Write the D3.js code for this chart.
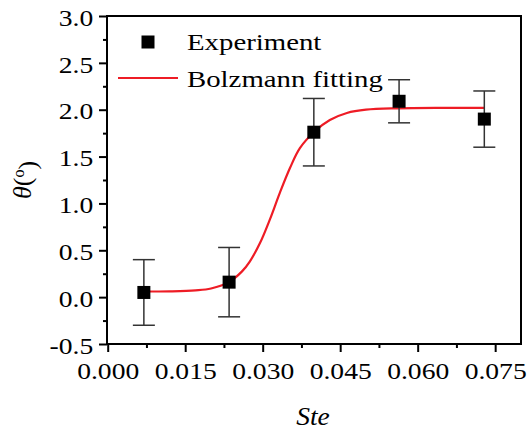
<!DOCTYPE html>
<html><head><meta charset="utf-8">
<script src="https://cdn.jsdelivr.net/npm/d3@7"></script>
<style>
body{margin:0;background:#fff;}
svg{display:block;}
text{font-family:"Liberation Serif","Times New Roman",serif;fill:#000;}
</style></head>
<body>
<svg id="chart" width="528" height="436"></svg>
<script>
// Experimental data
const steValues = [0.0070, 0.0235, 0.0399, 0.0564, 0.0729];
const thetaValues = [0.05, 0.16, 1.76, 2.09, 1.90];
const thetaErrors = [0.35, 0.37, 0.36, 0.23, 0.30];
// Boltzmann fitting curve
const fitSte = [0.0070, 0.0120, 0.0170, 0.0200, 0.0236, 0.0260, 0.0275, 0.0295, 0.0314, 0.0333, 0.0353, 0.0372, 0.0401, 0.0430, 0.0463, 0.0500, 0.0560, 0.0650, 0.0729];
const fitTheta = [0.060, 0.062, 0.072, 0.092, 0.166, 0.275, 0.380, 0.580, 0.830, 1.110, 1.380, 1.590, 1.770, 1.890, 1.965, 2.000, 2.015, 2.020, 2.020];
// Axis ticks
const xTicks = [0.000, 0.015, 0.030, 0.045, 0.060, 0.075];
const xMinor = [0.0075, 0.0225, 0.0375, 0.0525, 0.0675];
const yTicks = [-0.5, 0.0, 0.5, 1.0, 1.5, 2.0, 2.5, 3.0];
const yMinor = [-0.25, 0.25, 0.75, 1.25, 1.75, 2.25, 2.75];
const legendLabels = ["Experiment", "Bolzmann fitting"];

const L = 107, R = 521, T = 16, B = 344;
const SX = 1.2; // horizontal stretch of the lettering
const svg = d3.select("#chart");
const x = d3.scaleLinear().domain([0, 0.08]).range([L + 0.7, R]);
const y = d3.scaleLinear().domain([-0.5, 3.0]).range([B, T]);
const fs = 23;
const fmt1 = v => d3.format(".1f")(v).replace("\u2212", "-");
const fmt3 = v => d3.format(".3f")(v).replace("\u2212", "-");

// axes
const xAxis = svg.append("g").attr("transform", `translate(0,${B})`)
  .call(d3.axisBottom(x).tickValues(xTicks).tickFormat(fmt3).tickSize(8).tickSizeOuter(0));
const xAxisMinor = svg.append("g").attr("transform", `translate(0,${B})`)
  .call(d3.axisBottom(x).tickValues(xMinor).tickFormat("").tickSize(4).tickSizeOuter(0));
const yAxis = svg.append("g").attr("transform", `translate(${L},0)`)
  .call(d3.axisLeft(y).tickValues(yTicks).tickFormat(fmt1).tickSize(8).tickSizeOuter(0));
const yAxisMinor = svg.append("g").attr("transform", `translate(${L},0)`)
  .call(d3.axisLeft(y).tickValues(yMinor).tickFormat("").tickSize(4).tickSizeOuter(0));
[xAxis, xAxisMinor, yAxis, yAxisMinor].forEach(g => {
  g.selectAll("path").remove();
  g.selectAll("line").attr("stroke", "#000").attr("stroke-width", 2);
  g.selectAll("text").style("font-size", fs + "px").style("font-family", '"Liberation Serif",serif')
    .attr("transform", `scale(${SX},1)`);
});
xAxis.selectAll("text").attr("y", 35).attr("dy", 0).attr("x", 0);
yAxis.selectAll("text").attr("x", -13.7 / SX).attr("dy", "0.4em");

// frame
svg.append("rect").attr("x", L).attr("y", T).attr("width", R - L).attr("height", B - T)
  .attr("fill", "none").attr("stroke", "#000").attr("stroke-width", 2);

// fitting curve
svg.append("path")
  .datum(fitSte.map((s, i) => [s, fitTheta[i]]))
  .attr("fill", "none").attr("stroke", "#ee1c25").attr("stroke-width", 2.2)
  .attr("d", d3.line().x(d => x(d[0])).y(d => y(d[1])).curve(d3.curveCatmullRom.alpha(0.5)));

// error bars
const data = steValues.map((s, i) => ({s, t: thetaValues[i], e: thetaErrors[i]}));
const eb = svg.append("g").attr("stroke", "#333").attr("stroke-width", 1.5);
data.forEach(d => {
  eb.append("line").attr("x1", x(d.s)).attr("x2", x(d.s)).attr("y1", y(d.t - d.e)).attr("y2", y(d.t + d.e));
  [d.t - d.e, d.t + d.e].forEach(v => {
    eb.append("line").attr("x1", x(d.s) - 11).attr("x2", x(d.s) + 11).attr("y1", y(v)).attr("y2", y(v));
  });
});
// markers
svg.append("g").selectAll("rect").data(data).join("rect")
  .attr("x", d => x(d.s) - 6.5).attr("y", d => y(d.t) - 6.5)
  .attr("width", 13).attr("height", 13).attr("fill", "#000");

// legend
svg.append("rect").attr("x", 141.5).attr("y", 35.5).attr("width", 13).attr("height", 13).attr("fill", "#000");
svg.append("text").attr("transform", `translate(187,50) scale(${SX},1)`)
  .style("font-size", "24px").text(legendLabels[0]);
svg.append("line").attr("x1", 118).attr("x2", 178).attr("y1", 78).attr("y2", 78)
  .attr("stroke", "#ee1c25").attr("stroke-width", 2.2);
svg.append("text").attr("transform", `translate(187,87) scale(${SX},1)`)
  .style("font-size", "24px").text(legendLabels[1]);

// axis titles
const yl = svg.append("text").attr("transform", "translate(31,180) rotate(-90)")
  .attr("text-anchor", "middle").style("font-size", "26px");
yl.append("tspan").style("font-style", "italic").text("θ");
yl.append("tspan").text("(");
yl.append("tspan").attr("dy", "-0.45em").style("font-size", "16px").text("o");
yl.append("tspan").attr("dy", "0.45em").text(")");
svg.append("text").attr("transform", "translate(313,425) scale(1.1,1)").attr("text-anchor", "middle")
  .style("font-size", "25px").style("font-style", "italic").text("Ste");
</script>
</body></html>
